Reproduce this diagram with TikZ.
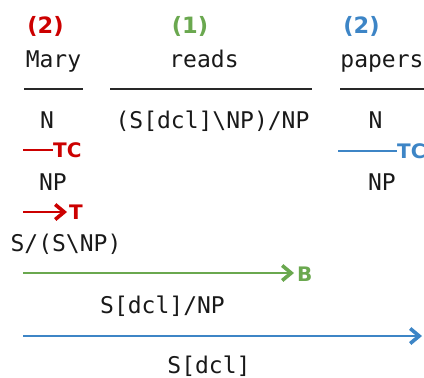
\documentclass[tikz,border=0pt]{standalone}
\usepackage{fontspec}
\setmonofont{DejaVu Sans Mono}
\newfontfamily\labfont{DejaVu Sans}
\usetikzlibrary{arrows.meta}
\definecolor{cred}{RGB}{204,0,0}
\definecolor{cgreen}{RGB}{106,168,79}
\definecolor{cblue}{RGB}{61,133,198}
\definecolor{cline}{RGB}{40,40,40}
\tikzset{
  cat/.style={anchor=base, inner sep=0pt, font=\ttfamily\fontsize{23}{28}\selectfont, text=black!90},
  num/.style={anchor=base, inner sep=0pt, font=\labfont\bfseries\fontsize{22.5}{26}\selectfont},
  rule/.style={anchor=base west, inner sep=0pt, font=\labfont\bfseries\fontsize{20}{23}\selectfont},
  underline/.style={draw=cline, line width=1.3pt},
  comb/.style={line width=1.8pt},
  combarrow/.style={line width=1.8pt, -{Straight Barb[length=9pt,width=15pt,line width=3.6pt]}}
}
\begin{document}
\begin{tikzpicture}[x=1pt,y=-1pt]
\useasboundingbox (0,0) rectangle (424,378);
% step numbers
\node[num, text=cred] (n1) at (45.5,33) {(2)};
\node[num, text=cgreen] (n2) at (190,33) {(1)};
\node[num, text=cblue] (n3) at (361.5,33) {(2)};
% words
\node[cat] (w1) at (53.5,67) {Mary};
\node[cat] (w2) at (204,67) {reads};
\node[cat] (w3) at (382,67) {papers};
% lexical lines
\coordinate (u1a) at (24,89);  \coordinate (u1b) at (83,89);
\coordinate (u2a) at (110,89); \coordinate (u2b) at (312,89);
\coordinate (u3a) at (340,89); \coordinate (u3b) at (430,89);
\draw[underline] (u1a) -- (u1b);
\draw[underline] (u2a) -- (u2b);
\draw[underline] (u3a) -- (u3b);
% lexical categories
\node[cat] (c1) at (47,128.5) {N};
\node[cat] (c2) at (212.5,128.5) {(S[dcl]\textbackslash NP)/NP};
\node[cat] (c3) at (375.5,128.5) {N};
% type changing, Mary
\coordinate (r1a) at (23,150); \coordinate (r1b) at (53,150);
\draw[comb, cred] (r1a) -- (r1b);
\node[rule, text=cred] (tc1) at (53,157.5) {TC};
\node[cat] (np1) at (53,190) {NP};
% type changing, papers
\coordinate (b1a) at (338,151); \coordinate (b1b) at (397,151);
\draw[comb, cblue] (b1a) -- (b1b);
\node[rule, text=cblue] (tc2) at (397,158.5) {TC};
\node[cat] (np2) at (382,190) {NP};
% type raising
\coordinate (r2a) at (23,212); \coordinate (r2b) at (67,212);
\draw[combarrow, cred] (r2a) -- (r2b);
\node[rule, text=cred] (t1) at (69,219) {T};
\node[cat] (tr) at (66,251.5) {S/(S\textbackslash NP)};
% composition
\coordinate (g1a) at (23,273); \coordinate (g1b) at (294,273);
\draw[combarrow, cgreen] (g1a) -- (g1b);
\node[rule, text=cgreen] (bl) at (297,281) {B};
\node[cat] (comp) at (162.5,313) {S[dcl]/NP};
% application
\coordinate (a1a) at (23,336); \coordinate (a1b) at (422,336);
\draw[combarrow, cblue] (a1a) -- (a1b);
\node[cat] (res) at (209,373) {S[dcl]};
\end{tikzpicture}
\end{document}
